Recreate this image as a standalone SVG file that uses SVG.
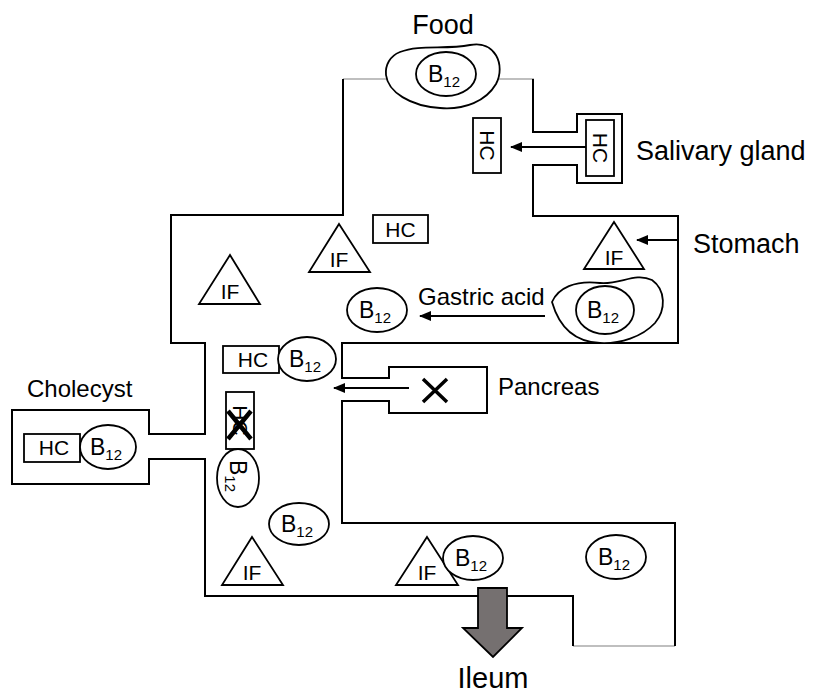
<svg xmlns="http://www.w3.org/2000/svg" width="814" height="693" viewBox="0 0 814 693">
<style>
text{font-family:"Liberation Sans",Arial,sans-serif;fill:#000}
.wall{fill:none;stroke:#000;stroke-width:2}
.gray{fill:none;stroke:#aaa;stroke-width:1.5}
.sh{fill:#fff;stroke:#000;stroke-width:1.8}
.lbl{font-size:24px}
.big{font-size:27px}
.in{font-size:21px;text-anchor:middle}
.b{font-size:23px;text-anchor:middle}
.sub{font-size:15px}
.arr{stroke:#000;stroke-width:1.8;fill:none;marker-end:url(#ah)}
</style>
<defs>
<marker id="ah" markerWidth="12" markerHeight="10" refX="11" refY="5" orient="auto" markerUnits="userSpaceOnUse">
<path d="M0,0 L12,5 L0,10 Z" fill="#000"/>
</marker>
</defs>
<g id="tract">
<path class="gray" d="M343,79 H534"/>
<path class="gray" d="M573,646 H675"/>
<path class="wall" d="M343,79 V215 H171 V343 H205 V434 H149 V410 H12 V484 H149 V459 H205 V596 H573 V646"/>
<path class="wall" d="M675,646 V523 H342 V401 H389 V413 H487 V367 H389 V378 H342 V343 H678 V216 H533 V165 H577 V183 H622 V114 H577 V132 H533 V79"/>
</g>
<g id="food">
<path class="sh" d="M400,52 C420,44 445,50 470,45 C495,40 506,65 496,84 C486,101 465,110 440,108 C410,106 388,92 386,75 C385,65 390,56 400,52 Z"/>
<ellipse class="sh" cx="446" cy="74" rx="30" ry="22"/>
<text class="b" x="444" y="82">B<tspan class="sub" dy="5">12</tspan></text>
<text class="big" x="443" y="34" text-anchor="middle">Food</text>
</g>
<g id="salivary">
<rect class="sh" x="586" y="120" width="28" height="56"/>
<text class="in" transform="translate(600,148) rotate(90)" y="7">HC</text>
<text class="big" x="636" y="160">Salivary gland</text>
</g>
<g id="hc-mouth">
<rect class="sh" x="473" y="118" width="28" height="55"/>
<text class="in" transform="translate(487,145.5) rotate(90)" y="7">HC</text>
</g>
<g id="stomach-label">
<text class="big" x="693" y="253">Stomach</text>
</g>
<g id="if-stomach">
<path class="sh" d="M614,222 L644,269 L584,269 Z"/>
<text class="in" x="614" y="265">IF</text>
</g>
<g id="food-stomach">
<path class="sh" d="M552,302 C558,288 575,280 600,283 C620,285 635,272 652,280 C666,290 666,310 655,323 C642,337 620,344 600,343 C578,342 560,330 552,302 Z"/>
<ellipse class="sh" cx="605" cy="310" rx="29" ry="24"/>
<text class="b" x="603" y="318">B<tspan class="sub" dy="5">12</tspan></text>
</g>
<g id="gastric-label">
<text class="lbl" x="418" y="305" font-size="22">Gastric acid</text>
</g>
<g id="hc-stomach">
<rect class="sh" x="373" y="215" width="55" height="28"/>
<text class="in" x="400.5" y="237">HC</text>
</g>
<g id="if1">
<path class="sh" d="M339,224 L370,272 L309,272 Z"/>
<text class="in" x="339" y="267">IF</text>
</g>
<g id="if2">
<path class="sh" d="M230,255 L260,304 L199,304 Z"/>
<text class="in" x="230" y="299">IF</text>
</g>
<g id="b12-stomach">
<ellipse class="sh" cx="377" cy="310" rx="30" ry="22"/>
<text class="b" x="375" y="318">B<tspan class="sub" dy="5">12</tspan></text>
</g>
<g id="hc-b12-duod">
<rect class="sh" x="223" y="346" width="56" height="27"/>
<text class="in" x="253" y="367">HC</text>
<ellipse class="sh" cx="307" cy="359" rx="29" ry="22"/>
<text class="b" x="305" y="367">B<tspan class="sub" dy="5">12</tspan></text>
</g>
<g id="pancreas">
<path d="M423,379 L447,402 M447,379 L423,402" stroke="#000" stroke-width="3.5"/>
<text class="lbl" x="498" y="395">Pancreas</text>
</g>
<g id="cholecyst">
<text class="lbl" x="27" y="397">Cholecyst</text>
<rect class="sh" x="24" y="434" width="56" height="28"/>
<text class="in" x="54" y="455">HC</text>
<ellipse class="sh" cx="108" cy="447" rx="28" ry="22"/>
<text class="b" x="106" y="455">B<tspan class="sub" dy="5">12</tspan></text>
</g>
<g id="hc-crossed">
<rect class="sh" x="226" y="392" width="28" height="57"/>
<text class="in" transform="translate(240,420.5) rotate(90)" y="7">HC</text>
<path d="M228,411 L251,439 M251,411 L228,439" stroke="#000" stroke-width="4.5"/>
</g>
<g id="b12-rot">
<ellipse class="sh" cx="238" cy="478" rx="21" ry="29"/>
<text class="b" transform="translate(238,478) rotate(90)" x="-2" y="8">B<tspan class="sub" dy="5">12</tspan></text>
</g>
<g id="b12-a">
<ellipse class="sh" cx="299" cy="524" rx="30" ry="21"/>
<text class="b" x="297" y="532">B<tspan class="sub" dy="5">12</tspan></text>
</g>
<g id="if3">
<path class="sh" d="M252,537 L283,585 L222,585 Z"/>
<text class="in" x="252" y="580">IF</text>
</g>
<g id="if4">
<path class="sh" d="M427,537 L458,585 L396,585 Z"/>
<text class="in" x="427" y="580">IF</text>
</g>
<g id="b12-b">
<ellipse class="sh" cx="473" cy="558" rx="30" ry="22"/>
<text class="b" x="471" y="566">B<tspan class="sub" dy="5">12</tspan></text>
</g>
<g id="b12-c">
<ellipse class="sh" cx="616" cy="557" rx="30" ry="22"/>
<text class="b" x="614" y="565">B<tspan class="sub" dy="5">12</tspan></text>
</g>
<g id="ileum">
<path d="M478,588 H507 V628 H522 L493,657 L463,628 H478 Z" fill="#757070" stroke="#000" stroke-width="1.8"/>
<text x="493" y="688" font-size="29" text-anchor="middle">Ileum</text>
</g>
<g id="connectors">
<path class="arr" d="M586,147 H511"/>
<path class="arr" d="M678,240 H637"/>
<path class="arr" d="M545,316 H420"/>
<path class="arr" d="M409,388 H334"/>
</g>
</svg>
